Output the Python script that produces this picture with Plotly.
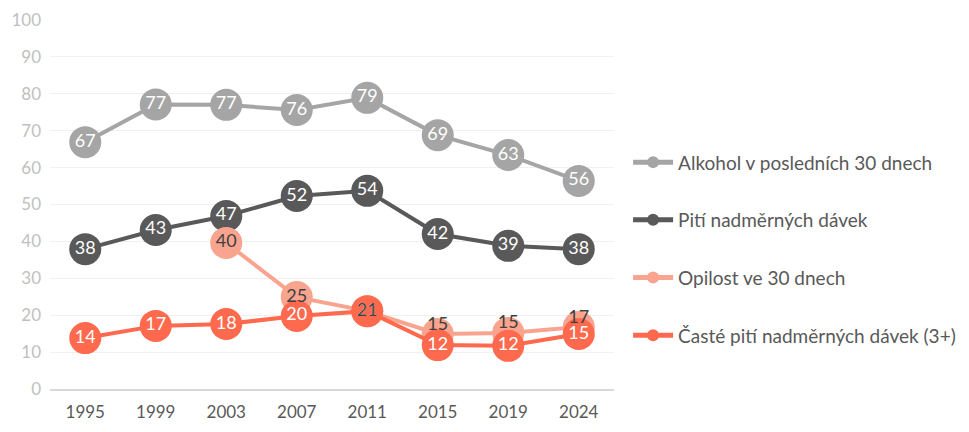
import plotly.graph_objects as go

# Roky a hodnoty (%)
years = ["1995", "1999", "2003", "2007", "2011", "2015", "2019", "2024"]
alkohol_30 = [66.9, 77.1, 77.0, 75.6, 78.9, 68.8, 63.4, 56.4]
piti_nadmerne = [37.9, 43.1, 46.9, 52.3, 53.7, 42.0, 38.8, 37.9]
opil_years = ["2003", "2007", "2011", "2015", "2019", "2024"]
opilost_30 = [39.6, 24.9, 21.1, 14.9, 15.2, 16.8]
caste_piti = [13.8, 17.1, 17.6, 19.8, 21.1, 11.9, 11.7, 14.9]
opil_label_pos = ["middle center", "middle center", "middle center",
                  "top center", "top center", "top center"]

FONT = "Lato"
C_ALK = "#A5A5A5"
C_PITI = "#595959"
C_OPIL = "#F9A48F"
C_CASTE = "#FF6A4E"

fig = go.Figure()


def add_series(x, y, name, color, show_text=True):
    fig.add_trace(go.Scatter(
        x=x, y=y, name=name, legendgroup=name,
        mode="lines+markers+text" if show_text else "lines+markers",
        line=dict(color=color, width=4),
        marker=dict(color=color, size=32),
        text=[f"{v:.0f}" for v in y] if show_text else None,
        textposition="middle center",
        textfont=dict(family=FONT, size=18, color="white"),
        cliponaxis=False,
    ))


add_series(years, alkohol_30, "Alkohol v posledních 30 dnech", C_ALK)
add_series(years, piti_nadmerne, "Pití nadměrných dávek", C_PITI)
add_series(opil_years, opilost_30, "Opilost ve 30 dnech", C_OPIL, show_text=False)
add_series(years, caste_piti, "Časté pití nadměrných dávek (3+)", C_CASTE)

# popisky opilosti nad ostatními řadami
fig.add_trace(go.Scatter(
    x=opil_years, y=opilost_30, mode="text", showlegend=False,
    text=[f"{v:.0f}" for v in opilost_30], textposition=opil_label_pos,
    textfont=dict(family=FONT, size=18, color="#404040"),
    cliponaxis=False, hoverinfo="skip",
))

# stránka má 8px okraj těla, proto menší rozměry
fig.update_layout(
    width=961, height=424,
    margin=dict(l=42, r=355, t=12, b=43, autoexpand=False),
    paper_bgcolor="white", plot_bgcolor="white",
    font=dict(family=FONT, size=17, color="#595959"),
    legend=dict(x=1.025, xanchor="left", y=0.38, yanchor="middle",
                font=dict(family=FONT, size=19, color="#595959"),
                tracegroupgap=30, itemsizing="constant", itemwidth=40),
    showlegend=True,
)
fig.update_xaxes(type="category", range=[-0.5, 7.5], showgrid=False, showline=True,
                 linecolor="#D9D9D9", linewidth=1.5, ticks="",
                 ticklabelstandoff=7,
                 tickfont=dict(family=FONT, size=17, color="#595959"))
fig.update_yaxes(range=[0, 100], dtick=10, showgrid=True, gridcolor="#F0F0F0",
                 gridwidth=1, zeroline=False, showline=False, ticks="",
                 ticklabelstandoff=8, automargin=False,
                 tickfont=dict(family=FONT, size=17, color="#BFBFBF"))

fig.write_html("out.html")
